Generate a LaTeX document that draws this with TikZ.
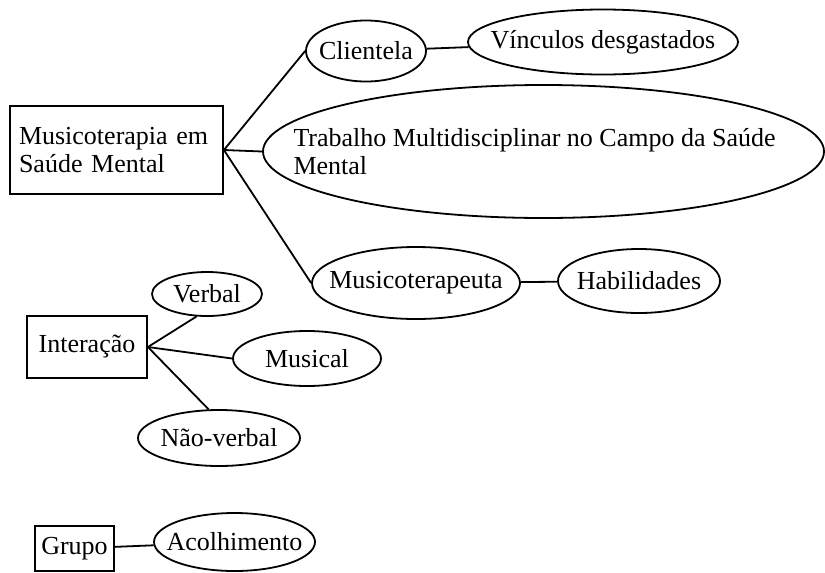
\documentclass[tikz,border=0pt]{standalone}
\usepackage{fontspec}
\setmainfont{Liberation Serif}
\usetikzlibrary{shapes.geometric}
\begin{document}
\begin{tikzpicture}[x=0.75pt,y=-0.75pt,
  every node/.style={font=\fontsize{19.5}{21}\selectfont},
  rbox/.style={draw,rectangle,line width=1.35pt,inner sep=0pt},
  ell/.style={draw,ellipse,line width=1.35pt,inner sep=0pt},
  conn/.style={line width=1.35pt}]
\useasboundingbox (0,0) rectangle (825,572);
% main box
\node[rbox,minimum width=159.75pt,minimum height=66pt,inner xsep=6.75pt,text width=146.25pt,align=left] (mse) at (116.5,150) {Musicoterapia em\\Saúde Mental};
\node[ell,minimum width=90pt,minimum height=45.75pt] (cl) at (366,51) {\makebox[0pt]{Clientela}};
\node[ell,minimum width=202.5pt,minimum height=48.75pt] (vd) at (603,42) {\makebox[0pt]{Vínculos desgastados}};
\node[ell,minimum width=420.75pt,minimum height=99.75pt] (tm) at (543.5,151.5) {\makebox[0pt]{\parbox{375pt}{\raggedright Trabalho Multidisciplinar no Campo da Saúde\\Mental}}};
\node[ell,minimum width=156pt,minimum height=54pt] (mt) at (416,283) {\makebox[0pt]{Musicoterapeuta}};
\node[ell,minimum width=121.5pt,minimum height=48pt] (hab) at (639,281) {\makebox[0pt]{Habilidades}};
% interacao
\node[rbox,minimum width=90pt,minimum height=46.5pt] (int) at (87,347) {Interação};
\node[ell,minimum width=82.5pt,minimum height=33pt] (vb) at (207,294) {\makebox[0pt]{Verbal}};
\node[ell,minimum width=111pt,minimum height=41.25pt] (mu) at (307,358.5) {\makebox[0pt]{Musical}};
\node[ell,minimum width=121.5pt,minimum height=42pt] (nv) at (219,438) {\makebox[0pt]{Não-verbal}};
% grupo
\node[rbox,minimum width=59.25pt,minimum height=33.75pt] (gr) at (74.5,548.5) {Grupo};
\node[ell,minimum width=120.75pt,minimum height=43.5pt] (ac) at (234.5,542) {\makebox[0pt]{Acolhimento}};
% connectors
\draw[conn] (mse.east) -- (cl.west);
\draw[conn] (mse.east) -- (tm.west);
\draw[conn] (mse.east) -- (mt.west);
\draw[conn] (cl) -- (vd);
\draw[conn] (mt) -- (hab);
\draw[conn] (int.east) -- (vb.245);
\draw[conn] (int.east) -- (mu.west);
\draw[conn] (int.east) -- (nv.110);
\draw[conn] (gr) -- (ac);
\end{tikzpicture}
\end{document}
